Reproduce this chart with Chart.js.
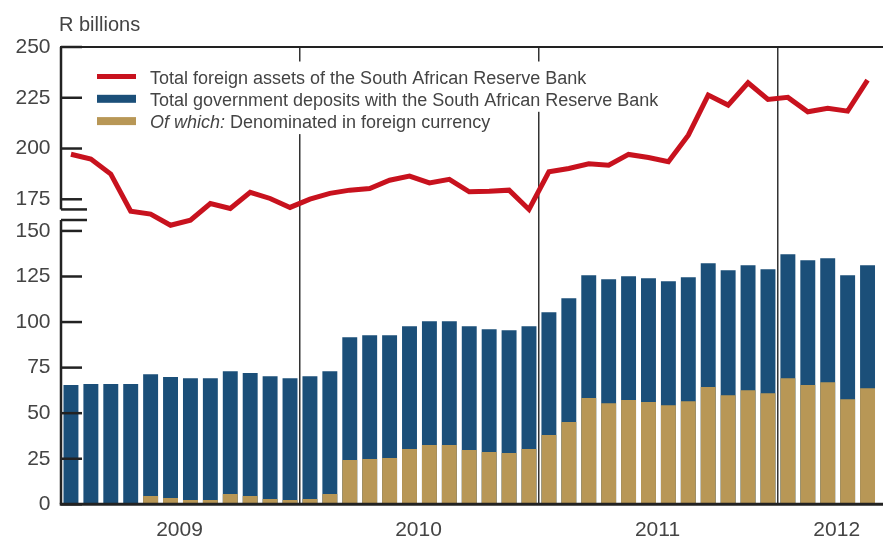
<!DOCTYPE html>
<html>
<head>
<meta charset="utf-8">
<title>SARB foreign assets and government deposits</title>
<script src="https://cdn.jsdelivr.net/npm/chart.js@4.4.1/dist/chart.umd.min.js"></script>
<style>
  html, body { margin: 0; padding: 0; background: #ffffff; }
  canvas { display: block; }
</style>
</head>
<body>
<canvas id="chart" width="883" height="538"></canvas>
<script>
// ---- data -------------------------------------------------------------
const years = ['2009', '2010', '2011', '2012'];
const monthNames = ['Jan', 'Feb', 'Mar', 'Apr', 'May', 'Jun', 'Jul', 'Aug', 'Sep', 'Oct', 'Nov', 'Dec'];
const monthsShown = [12, 12, 12, 5];

// one category per month, Jan 2009 - May 2012
const categories = [];
years.forEach((y, k) => {
  for (let m = 0; m < monthsShown[k]; m++) categories.push(monthNames[m] + ' ' + y);
});

// R billions, month-end
const foreignAssets = [
  197.2, 194.8, 187.4, 169.1, 167.7, 162.2, 164.7, 172.9, 170.5, 178.4, 175.4, 171.0,
  175.1, 177.9, 179.5, 180.3, 184.4, 186.4, 183.1, 184.8, 178.7, 178.9, 179.5, 170.0,
  188.5, 190.2, 192.5, 191.8, 197.1, 195.6, 193.5, 206.6, 226.3, 221.4, 232.4, 224.2,
  225.2, 218.1, 219.8, 218.4, 233.7
];
const govDeposits = [
  65.4, 66.0, 66.0, 66.0, 71.4, 69.8, 69.2, 69.2, 73.0, 72.0, 70.3, 69.2,
  70.3, 73.0, 91.7, 92.8, 92.8, 97.7, 100.5, 100.5, 97.7, 96.1, 95.5, 97.7,
  105.4, 113.1, 125.7, 123.5, 125.1, 124.0, 122.4, 124.6, 132.3, 128.4, 131.2, 129.0,
  137.2, 133.9, 135.0, 125.7, 131.2
];
const foreignCurrencyDeposits = [
  0, 0, 0, 0, 4.5, 3.5, 2.4, 2.4, 5.6, 4.5, 2.9, 2.4,
  2.9, 5.6, 24.3, 24.8, 25.4, 30.3, 32.5, 32.5, 29.8, 28.7, 28.1, 30.3,
  38.0, 45.1, 58.3, 55.5, 57.2, 56.1, 54.4, 56.6, 64.3, 59.9, 62.6, 61.0,
  69.2, 65.4, 67.0, 57.7, 63.7
];

// axis ticks (broken value axis: upper panel for assets, lower for deposits)
const upperTicks = [175, 200, 225, 250];
const lowerTicks = [0, 25, 50, 75, 100, 125, 150];
const upperBreak = 170;     // where the upper panel ends
const upperAxisMin = 164.8; // upper scale carried through the break gap
const lowerAxisMax = 156;
// months under which each year label is centred
const yearLabelMonths = ['Jun 2009', 'Jun 2010', 'Jun 2011', 'Mar 2012'];

// ---- style ------------------------------------------------------------
const FONT = "'Liberation Sans', Arial, Helvetica, sans-serif";
const TEXT = '#444444';
const AXIS = '#222222';
const RED = '#c8121e';
const BLUE = '#1b4f79';
const GOLD = '#b89756';

const fitWidth = (w) => (scale) => { scale.width = w; };
const fixedTicks = (list) => (scale) => { scale.ticks = list.map(v => ({ value: v })); };

function stroke(ctx, x1, y1, x2, y2) {
  ctx.beginPath();
  ctx.moveTo(x1, y1);
  ctx.lineTo(x2, y2);
  ctx.stroke();
}

// axis lines, inner tick marks, break marks, unit label
const framePlugin = {
  id: 'frame',
  afterDatasetsDraw(chart) {
    const { ctx, chartArea: a, scales } = chart;
    const top = scales.yTop, bottom = scales.yBottom;
    const breakUpper = top.getPixelForValue(upperBreak);
    ctx.save();
    ctx.strokeStyle = AXIS;
    ctx.lineCap = 'butt';

    // top rule
    ctx.lineWidth = 2;
    stroke(ctx, a.left - 1, a.top, chart.width, a.top);

    // left axis in two pieces
    ctx.lineWidth = 2.5;
    stroke(ctx, a.left, a.top, a.left, breakUpper);
    stroke(ctx, a.left, bottom.top, a.left, bottom.bottom);

    // tick marks pointing into the plot
    top.ticks.forEach(t => {
      const y = top.getPixelForValue(t.value);
      stroke(ctx, a.left, y, a.left + 21, y);
    });
    bottom.ticks.forEach(t => {
      const y = bottom.getPixelForValue(t.value);
      stroke(ctx, a.left, y, a.left + 21, y);
    });

    // break marks
    stroke(ctx, a.left, breakUpper, a.left + 26, breakUpper);
    stroke(ctx, a.left, bottom.top, a.left + 26, bottom.top);

    // base line
    ctx.lineWidth = 3;
    stroke(ctx, a.left - 1.25, bottom.bottom, chart.width, bottom.bottom);

    // unit label
    ctx.fillStyle = TEXT;
    ctx.font = '20px ' + FONT;
    ctx.textAlign = 'left';
    ctx.textBaseline = 'alphabetic';
    ctx.fillText('R billions', 59, 30.7);
    ctx.restore();
  }
};

// legend set inside the plot, on a white ground
const legendPlugin = {
  id: 'insetLegend',
  afterDatasetsDraw(chart) {
    const ctx = chart.ctx;
    const swatchX = 97, swatchW = 39, textX = 150;
    const firstBaseline = 83.5, rowStep = 22.3;
    ctx.save();
    ctx.textAlign = 'left';
    ctx.textBaseline = 'alphabetic';

    const rows = chart.data.datasets.map((ds, i) => {
      const lead = ds.italicLead || '';
      const rest = lead ? ds.label.slice(lead.length) : ds.label;
      ctx.font = 'italic 18px ' + FONT;
      const leadW = lead ? ctx.measureText(lead).width : 0;
      ctx.font = '18px ' + FONT;
      const restW = ctx.measureText(rest).width;
      return { ds, lead, rest, leadW, restW, base: firstBaseline + i * rowStep };
    });

    // white ground first, so no row covers its neighbour's text
    ctx.fillStyle = '#ffffff';
    rows.forEach(r => {
      ctx.fillRect(swatchX - 4, r.base - 22, textX - swatchX + r.leadW + r.restW + 8, 28);
    });

    rows.forEach(r => {
      const cy = r.base - 7;
      const isLine = r.ds.type === 'line';
      const h = isLine ? 5 : 8;
      ctx.fillStyle = isLine ? r.ds.borderColor : r.ds.backgroundColor;
      ctx.fillRect(swatchX, cy - h / 2, swatchW, h);

      ctx.fillStyle = TEXT;
      if (r.lead) {
        ctx.font = 'italic 18px ' + FONT;
        ctx.fillText(r.lead, textX, r.base);
      }
      ctx.font = '18px ' + FONT;
      ctx.fillText(r.rest, textX + r.leadW, r.base);
    });
    ctx.restore();
  }
};

new Chart(document.getElementById('chart'), {
  type: 'bar',
  data: {
    labels: categories,
    datasets: [
      {
        type: 'line',
        label: 'Total foreign assets of the South African Reserve Bank',
        data: foreignAssets,
        yAxisID: 'yTop',
        borderColor: RED,
        backgroundColor: RED,
        borderWidth: 5,
        pointRadius: 0,
        tension: 0,
        fill: false,
        clip: false,
        order: 0
      },
      {
        label: 'Total government deposits with the South African Reserve Bank',
        data: govDeposits,
        yAxisID: 'yBottom',
        backgroundColor: BLUE,
        borderWidth: 0,
        grouped: false,
        barPercentage: 0.75,
        categoryPercentage: 1,
        order: 2
      },
      {
        label: 'Of which: Denominated in foreign currency',
        italicLead: 'Of which:',
        data: foreignCurrencyDeposits,
        yAxisID: 'yBottom',
        backgroundColor: GOLD,
        borderWidth: 0,
        grouped: false,
        barPercentage: 0.75,
        categoryPercentage: 1,
        order: 1
      }
    ]
  },
  options: {
    responsive: false,
    animation: false,
    events: [],
    layout: { padding: { top: 47, right: 5.5, bottom: 0, left: 0 } },
    plugins: {
      legend: { display: false },
      tooltip: { enabled: false },
      title: { display: false }
    },
    scales: {
      x: {
        type: 'category',
        position: 'bottom',
        offset: true,
        border: { display: false },
        grid: {
          offset: true,
          drawTicks: false,
          lineWidth: 1.5,
          color: (c) => (c.index > 0 && c.index < categories.length &&
                         categories[c.index].startsWith('Jan')) ? '#333333' : 'rgba(0,0,0,0)'
        },
        ticks: {
          autoSkip: false,
          maxRotation: 0,
          padding: 13,
          labelOffset: 9,
          color: TEXT,
          font: { family: FONT, size: 21 },
          callback: (v, i) => yearLabelMonths.includes(categories[i]) ? categories[i].slice(4) : ''
        },
        afterFit: (scale) => { scale.height = 33.7; }
      },
      // left boxes are stacked in reverse order: the later one sits on top
      yBottom: {
        type: 'linear',
        position: 'left',
        stack: 'value',
        stackWeight: 284.3,
        min: 0,
        max: lowerAxisMax,
        border: { display: false },
        grid: { display: false, drawTicks: false },
        ticks: { autoSkip: false, padding: 10.5, color: TEXT, font: { family: FONT, size: 21 } },
        afterBuildTicks: fixedTicks(lowerTicks),
        afterFit: fitWidth(61)
      },
      yTop: {
        type: 'linear',
        position: 'left',
        stack: 'value',
        stackWeight: 173,
        min: upperAxisMin,
        max: 250,
        border: { display: false },
        grid: { display: false, drawTicks: false },
        ticks: { autoSkip: false, padding: 10.5, color: TEXT, font: { family: FONT, size: 21 } },
        afterBuildTicks: fixedTicks(upperTicks),
        afterFit: fitWidth(61)
      }
    }
  },
  plugins: [framePlugin, legendPlugin]
});
</script>
</body>
</html>
